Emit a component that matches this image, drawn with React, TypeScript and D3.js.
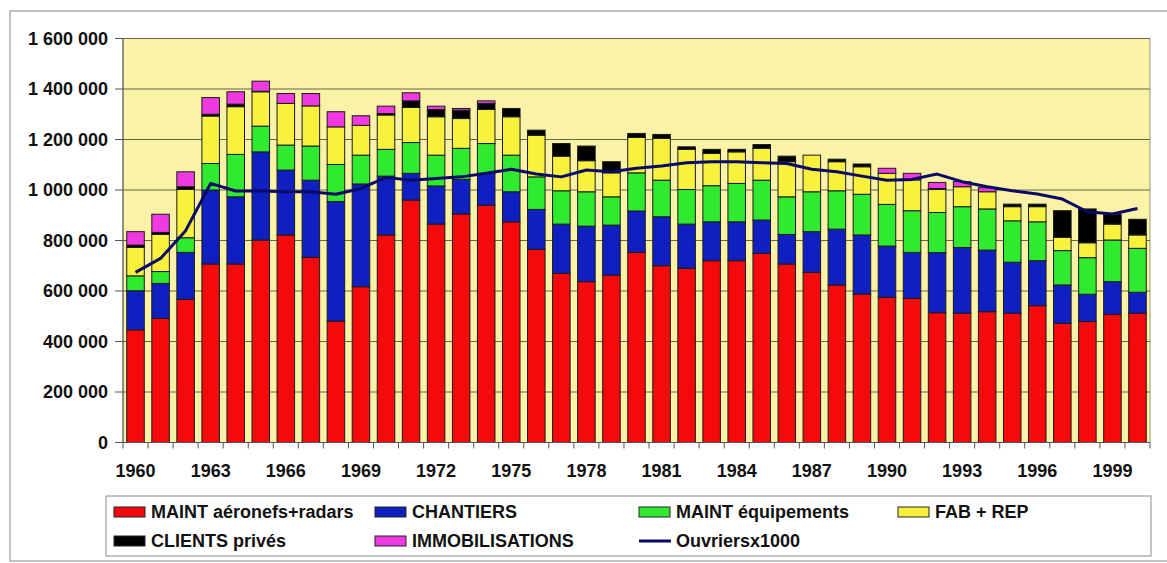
import React from "react";
import * as d3 from "d3";

const years = d3.range(1960, 2001).map(String);
// values in thousands
const maintAero = [446,492,567,707,707,802,822,733,481,617,822,960,865,905,940,874,765,670,637,663,753,700,690,720,720,749,707,674,624,588,575,571,514,512,518,512,542,472,479,508,512];
const chantiers = [155,138,186,293,266,349,257,306,473,407,233,106,151,137,126,119,158,195,220,198,164,194,175,154,154,132,117,161,221,234,203,182,238,260,244,202,178,152,108,129,83];
const maintEquip = [59,47,58,105,168,102,99,135,147,114,106,122,122,123,118,145,129,132,136,112,151,145,137,143,152,158,149,158,152,161,165,165,159,162,163,164,154,136,145,165,174];
const fabRep = [113,147,191,188,189,136,165,159,149,118,136,139,152,118,135,152,165,137,123,95,140,165,159,128,125,126,139,145,115,109,123,122,91,79,68,56,60,53,59,63,53];
const clientsPrives = [9,8,11,7,10,2,0,0,0,0,6,26,29,33,24,33,20,50,58,44,16,16,10,16,10,15,22,0,10,11,0,0,4,0,0,10,10,105,134,39,62];
const immobilisations = [53,72,59,66,49,40,39,49,60,38,29,32,13,7,10,0,0,0,0,0,0,0,0,0,0,0,0,0,0,0,20,26,24,20,16,0,0,0,0,0,0];
const ouvriers = [674,729,839,1026,996,996,993,993,983,1006,1050,1039,1046,1052,1066,1082,1063,1052,1079,1072,1086,1095,1108,1112,1112,1108,1105,1082,1072,1055,1039,1042,1063,1033,1013,997,984,964,914,905,927];
const yTicks = [0, 200000, 400000, 600000, 800000, 1000000, 1200000, 1400000, 1600000];
const xTickLabels = ["1960","1963","1966","1969","1972","1975","1978","1981","1984","1987","1990","1993","1996","1999"];

const seriesNames = ["MAINT aéronefs+radars", "CHANTIERS", "MAINT équipements", "FAB + REP", "CLIENTS privés", "IMMOBILISATIONS"];
const seriesData = [maintAero, chantiers, maintEquip, fabRep, clientsPrives, immobilisations];
const colors = ["#F40A0A", "#1020C0", "#30EA30", "#F8F23E", "#000000", "#EE3AE0"];
const lineName = "Ouvriersx1000";
const lineColor = "#0A0A66";

const FONT = "'Liberation Sans', Arial, sans-serif";

export default function App() {
  const W = 1167, H = 563;
  const left = 123, right = 1150, top = 38.5, bottom = 442.5;
  const x = d3.scaleBand<string>().domain(years).range([left, right]).paddingInner(0.3).paddingOuter(0.15);
  const y = d3.scaleLinear().domain([0, 1600000]).range([bottom, top]);
  const fmt = (v: number) => d3.format(",")(v).replace(/,/g, " ");

  const rows = years.map((yr, i) => {
    const o: any = { year: yr };
    seriesNames.forEach((n, k) => (o[n] = seriesData[k][i] * 1000));
    return o;
  });
  const stack = d3.stack<any>().keys(seriesNames)(rows);
  const step = x.step();
  const boundaries = d3.range(years.length + 1).map((k) => left + k * step);

  const line = d3
    .line<number>()
    .x((_, i) => (x(years[i]) as number) + x.bandwidth() / 2)
    .y((d) => y(d * 1000));

  const legendItems = [
    { name: seriesNames[0], color: colors[0], sx: 114, tx: 151, row: 0, type: "rect" },
    { name: seriesNames[1], color: colors[1], sx: 375, tx: 412, row: 0, type: "rect" },
    { name: seriesNames[2], color: colors[2], sx: 639, tx: 676, row: 0, type: "rect" },
    { name: seriesNames[3], color: colors[3], sx: 898, tx: 935, row: 0, type: "rect" },
    { name: seriesNames[4], color: colors[4], sx: 114, tx: 151, row: 1, type: "rect" },
    { name: seriesNames[5], color: colors[5], sx: 375, tx: 412, row: 1, type: "rect" },
    { name: lineName, color: lineColor, sx: 639, tx: 676, row: 1, type: "line" },
  ];
  const rowY = [512, 541];

  return (
    <svg width={W} height={H} style={{ position: "absolute", left: 0, top: 0, background: "#fff" }} fontFamily={FONT}>
      <rect x={10} y={11} width={1170} height={550} fill="#fff" stroke="#9a9a9a" strokeWidth={1.2} />
      <rect x={left} y={top} width={right - left} height={bottom - top} fill="#FAF2A6" stroke="#9a9a80" strokeWidth={1} />
      {yTicks.map((t) => (
        <g key={t}>
          {t > 0 && <line x1={left} x2={right} y1={y(t)} y2={y(t)} stroke="#66664f" strokeWidth={1} />}
          <line x1={left - 8} x2={left} y1={y(t)} y2={y(t)} stroke="#555" strokeWidth={1} />
          <text x={108} y={y(t)} dy="0.35em" textAnchor="end" fontSize={18} fontWeight="bold" fill="#111">
            {fmt(t)}
          </text>
        </g>
      ))}
      {stack.map((s, k) =>
        s.map((d, i) =>
          d[1] - d[0] > 0 ? (
            <rect
              key={k + "-" + i}
              x={x(years[i])}
              width={x.bandwidth()}
              y={y(d[1])}
              height={y(d[0]) - y(d[1])}
              fill={colors[k]}
              stroke="#1a1a1a"
              strokeWidth={1}
            />
          ) : null
        )
      )}
      <line x1={left} x2={left} y1={top} y2={bottom} stroke="#555" strokeWidth={1} />
      <line x1={left} x2={right} y1={bottom} y2={bottom} stroke="#555" strokeWidth={1} />
      {boundaries.map((b, k) => (
        <line key={k} x1={b} x2={b} y1={bottom} y2={bottom + 6} stroke="#555" strokeWidth={1} />
      ))}
      {xTickLabels.map((l) => (
        <text key={l} x={(x(l) as number) + x.bandwidth() / 2} y={471} dy="0.35em" textAnchor="middle" fontSize={18} fontWeight="bold" fill="#111">
          {l}
        </text>
      ))}
      <path d={line(ouvriers) || ""} fill="none" stroke={lineColor} strokeWidth={3} strokeLinejoin="round" />
      <rect x={106} y={496} width={1045} height={60} fill="#fff" stroke="#8a8a8a" strokeWidth={1} />
      {legendItems.map((it) => (
        <g key={it.name}>
          {it.type === "rect" ? (
            <rect x={it.sx} y={rowY[it.row] - 5} width={31} height={10} fill={it.color} stroke="#222" strokeWidth={1} />
          ) : (
            <line x1={it.sx} x2={it.sx + 32} y1={rowY[it.row]} y2={rowY[it.row]} stroke={it.color} strokeWidth={3} />
          )}
          <text x={it.tx} y={rowY[it.row]} dy="0.35em" fontSize={18} fontWeight="bold" fill="#111">
            {it.name}
          </text>
        </g>
      ))}
    </svg>
  );
}
